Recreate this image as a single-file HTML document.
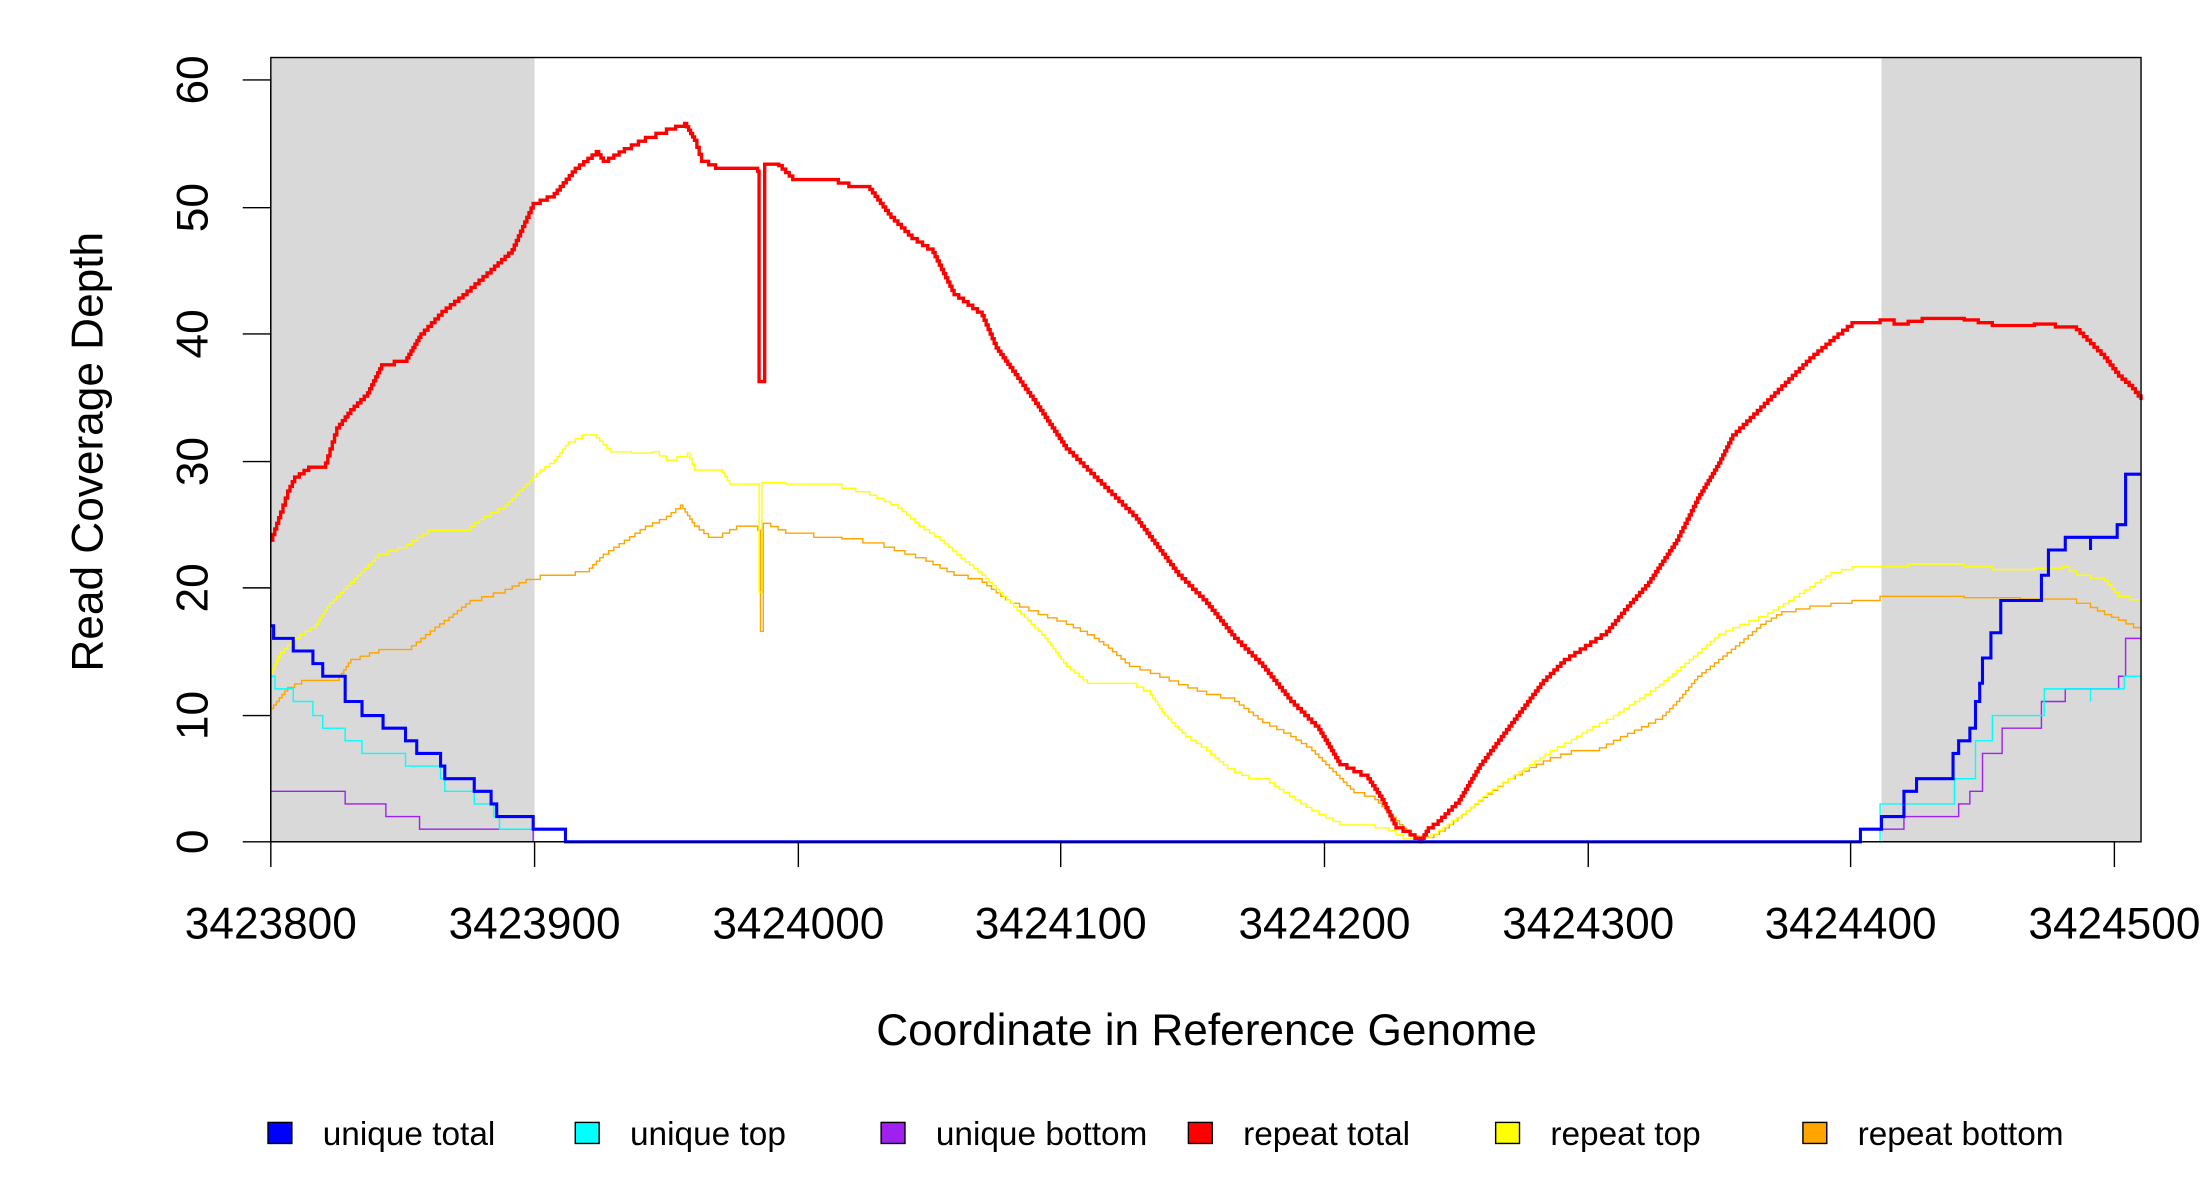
<!DOCTYPE html>
<html><head><meta charset="utf-8"><style>html,body{margin:0;padding:0;background:#fff}svg{display:block}</style></head><body>
<svg id="s" width="2200" height="1200" viewBox="0 0 1568 855.3" xmlns="http://www.w3.org/2000/svg" font-family="Liberation Sans, Arial, sans-serif">
<rect x="193" y="41" width="188" height="559" fill="#d9d9d9"/>
<rect x="1341" y="41" width="185" height="559" fill="#d9d9d9"/>
<g fill="none" stroke-linejoin="miter">
<polyline class="step" stroke="#ffa500" stroke-width="1" points="193,505 205,490 215,485 240,485 250,470 270,463 290,463 310,447 320,440 335,428 360,420 375,413 385,410 400,410 420,405 430,395 445,385 460,375 475,368 485,360 495,375 505,383 515,380 525,375 540,378 542,378 542,450 544,450 544,373 560,380 580,383 600,384 630,390 660,400 680,410 700,415 720,430 740,438 760,445 780,455 790,462 805,475 820,480 840,488 860,495 880,500 900,515 920,525 935,535 950,550 965,565 980,570 995,585 1005,596 1018,597 1030,590 1045,578 1060,566 1075,555 1090,547 1105,540 1120,535 1140,533 1155,525 1170,518 1185,510 1195,500 1210,482 1225,470 1240,458 1255,445 1270,436 1290,432 1305,430 1320,428 1340,425 1360,425 1380,425 1400,426 1440,427 1480,430 1490,433 1500,438 1510,442 1526,450"/>
<polyline class="step" stroke="#ffff00" stroke-width="1" points="193,480 200,465 210,455 225,445 235,430 250,415 270,395 290,388 305,378 335,375 345,368 360,360 375,345 385,335 395,328 405,315 415,310 425,312 435,322 450,323 465,322 475,328 490,323 495,335 515,337 520,345 541,345 541,422 543,422 543,344 560,345 590,345 600,348 620,353 640,362 655,375 670,385 685,398 700,410 715,425 730,440 745,455 760,475 775,487 805,487 820,495 830,510 845,525 860,535 875,548 890,555 905,558 915,565 935,578 955,588 980,590 990,592 1000,598 1015,597 1025,592 1045,578 1060,565 1075,555 1090,545 1105,535 1120,527 1135,518 1150,510 1165,500 1180,490 1195,478 1210,465 1225,452 1240,445 1260,437 1275,428 1290,418 1305,408 1320,404 1340,404 1360,402 1380,402 1420,406 1450,405 1470,404 1480,410 1500,414 1510,425 1526,430"/>
<polyline class="step" stroke="#ff0000" stroke-width="2.4" points="193,385 200,365 205,350 210,340 220,333 232,330 240,305 250,292 262,280 272,260 290,255 300,238 315,222 330,210 350,192 365,178 380,145 395,138 410,120 425,108 430,115 445,106 460,98 475,92 488,88 495,100 500,115 510,120 540,122 541,122 541,272 545,272 545,117 555,118 565,128 590,128 605,133 620,135 635,155 650,170 665,180 680,210 700,225 710,248 720,262 740,290 760,320 775,335 790,350 810,370 825,390 840,410 860,430 880,455 900,475 920,500 940,520 955,545 975,555 985,570 995,590 1005,595 1012,600 1018,590 1025,585 1040,570 1055,545 1070,525 1085,505 1100,485 1115,470 1130,460 1145,450 1160,432 1175,415 1195,385 1210,355 1225,330 1235,310 1250,295 1270,275 1290,255 1310,238 1320,230 1340,228 1350,231 1370,227 1400,228 1420,232 1450,231 1480,235 1490,245 1500,255 1510,268 1520,277 1526,285"/>
<path stroke="#a020f0" stroke-width="1" d="M193 564 H246 V573 H275 V582 H299 V591 H380 V600 H1326 V591 H1357 V582 H1396 V573 H1404 V564 H1413 V537 H1427 V519 H1455 V500 H1472 V491 H1510 V482 H1515 V455 H1526"/>
<path stroke="#00ffff" stroke-width="1" d="M193 482 H196 V491 H209 V500 H223 V510 H230 V519 H246 V528 H258 V537 H289 V546 H314 V555 H317 V564 H338 V573 H352 V582 H356 V591 H403 V600 H1340 V573 H1365 V573 H1393 V555 H1408 V528 H1420 V510 H1457 V491 H1490 V500 V491 H1514 V482 H1526"/>
<path stroke="#0000ff" stroke-width="2.2" d="M193 446 H195 V455 H209 V464 H223 V473 H230 V482 H246 V500 H258 V510 H273 V519 H289 V528 H297 V537 H314 V546 H317 V555 H338 V564 H350 V573 H354 V582 H380 V591 H403 V600 H1326 V591 H1341 V582 H1357 V564 H1366 V555 H1392 V537 H1396 V528 H1404 V519 H1408 V500 H1411 V487 H1413 V469 H1419 V451 H1426 V428 H1455 V410 H1460 V392 H1472 V383 H1490 V392 V383 H1509 V374 H1515 V338 H1526"/>
</g>
<rect x="193" y="41" width="1333" height="559" fill="none" stroke="#000" stroke-width="1"/>
<g stroke="#000" stroke-width="1">
<line x1="193" y1="600" x2="1507" y2="600"/>
<line x1="193" y1="600" x2="193" y2="618"/><line x1="381" y1="600" x2="381" y2="618"/><line x1="569" y1="600" x2="569" y2="618"/><line x1="756" y1="600" x2="756" y2="618"/><line x1="944" y1="600" x2="944" y2="618"/><line x1="1132" y1="600" x2="1132" y2="618"/><line x1="1319" y1="600" x2="1319" y2="618"/><line x1="1507" y1="600" x2="1507" y2="618"/>
<line x1="193" y1="57" x2="193" y2="600"/>
<line x1="173" y1="600" x2="193" y2="600"/><line x1="173" y1="510" x2="193" y2="510"/><line x1="173" y1="419" x2="193" y2="419"/><line x1="173" y1="329" x2="193" y2="329"/><line x1="173" y1="238" x2="193" y2="238"/><line x1="173" y1="148" x2="193" y2="148"/><line x1="173" y1="57" x2="193" y2="57"/>
</g>
<g font-size="31.5" text-anchor="middle" fill="#000">
<text x="193" y="669">3423800</text><text x="381" y="669">3423900</text><text x="569" y="669">3424000</text><text x="756" y="669">3424100</text><text x="944" y="669">3424200</text><text x="1132" y="669">3424300</text><text x="1319" y="669">3424400</text><text x="1507" y="669">3424500</text>
<text transform="translate(148,600) rotate(-90)">0</text>
<text transform="translate(148,510) rotate(-90)">10</text>
<text transform="translate(148,419) rotate(-90)">20</text>
<text transform="translate(148,329) rotate(-90)">30</text>
<text transform="translate(148,238) rotate(-90)">40</text>
<text transform="translate(148,148) rotate(-90)">50</text>
<text transform="translate(148,57) rotate(-90)">60</text>
<text x="860" y="745">Coordinate in Reference Genome</text>
<text transform="translate(73,322) rotate(-90)">Read Coverage Depth</text>
</g>
<g font-size="23.8" fill="#000" stroke="#000" stroke-width="1">
<rect x="191" y="800" width="17" height="15" fill="#0000ff"/>
<rect x="410" y="800" width="17" height="15" fill="#00ffff"/>
<rect x="628" y="800" width="17" height="15" fill="#a020f0"/>
<rect x="847" y="800" width="17" height="15" fill="#ff0000"/>
<rect x="1066" y="800" width="17" height="15" fill="#ffff00"/>
<rect x="1285" y="800" width="17" height="15" fill="#ffa500"/>
</g>
<g font-size="23.8" fill="#000">
<text x="230" y="816">unique total</text>
<text x="449" y="816">unique top</text>
<text x="667" y="816">unique bottom</text>
<text x="886" y="816">repeat total</text>
<text x="1105" y="816">repeat top</text>
<text x="1324" y="816">repeat bottom</text>
</g>
</svg>
<script>
(function(){
var NS="http://www.w3.org/2000/svg";
var pls=document.querySelectorAll("polyline.step");
for(var i=0;i<pls.length;i++){
 var pl=pls[i];
 var pts=pl.getAttribute("points").trim().split(/\s+/).map(function(p){var a=p.split(",");return [+a[0],+a[1]];});
 var d="M"+pts[0][0]+" "+pts[0][1];
 for(var j=1;j<pts.length;j++){
  var x0=pts[j-1][0],y0=pts[j-1][1],x1=pts[j][0],y1=pts[j][1];
  var dx=x1-x0,dy=y1-y0;
  var n=Math.max(1,Math.min(Math.round(Math.abs(dy)/2.5),Math.round(Math.abs(dx)/1.5)));
  if(dx===0||dy===0){n=1;}
  for(var k=1;k<=n;k++){
   d+=" H"+(x0+dx*k/n).toFixed(2)+" V"+(y0+dy*k/n).toFixed(2);
  }
 }
 var p=document.createElementNS(NS,"path");
 p.setAttribute("d",d);
 p.setAttribute("stroke",pl.getAttribute("stroke"));
 p.setAttribute("stroke-width",pl.getAttribute("stroke-width"));
 p.setAttribute("fill","none");
 pl.parentNode.replaceChild(p,pl);
}
})();
</script>
</body></html>
